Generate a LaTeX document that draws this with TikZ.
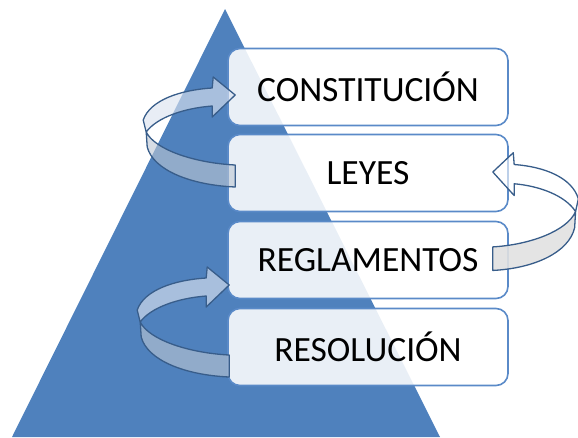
\documentclass[tikz,border=0pt]{standalone}
\usepackage{fontspec}
\setmainfont{Carlito}
\definecolor{triblue}{RGB}{79,129,189}
\definecolor{boxline}{RGB}{90,138,200}
\definecolor{arrline}{RGB}{56,93,138}
\definecolor{backfillL}{RGB}{219,227,240}
\definecolor{frontfillL}{RGB}{189,199,212}
\definecolor{backfillR}{RGB}{255,255,255}
\definecolor{frontfillR}{RGB}{225,225,225}
\tikzset{
  levelbox/.style={draw=boxline, line width=1.6pt, rounded corners=12pt,
    fill=white, fill opacity=0.88, text opacity=1,
    minimum width=280pt, minimum height=77pt, inner sep=0pt,
    font=\fontsize{35.5}{42}\selectfont, text=black},
  arrpart/.style={draw=arrline, line width=1.3pt, line join=round},
  pics/twist/.style n args={4}{code={
    \path[arrpart, fill=#1, fill opacity=#2]
      (-92,25) .. controls (-85,5) and (-55,-5) .. (-23,-7) -- (-22,-18) -- (0,0)
      -- (-23,22) -- (-23,11) .. controls (-50,13) and (-78,22) .. (-89,37) -- cycle;
    \path[arrpart, fill=#3, fill opacity=#4]
      (-89,37) .. controls (-80,55) and (-40,68) .. (0,70) -- (0,92)
      .. controls (-45,90) and (-82,75) .. (-88,52) -- cycle;
  }}
}
\begin{document}
\begin{tikzpicture}[x=1pt,y=-1pt]
  \useasboundingbox (0,0) rectangle (578,437);
  \fill[triblue] (225,9) -- (440,437) -- (12,437) -- cycle;
  \node[levelbox] (c) at (368,87) {CONSTITUCIÓN};
  \node[levelbox] (l) at (368,173) {LEYES};
  \node[levelbox] (r) at (368,260) {REGLAMENTOS};
  \node[levelbox] (s) at (368,347) {RESOLUCIÓN};
  \pic at ([shift={(8,8)}]c.west) {twist={backfillL}{0.64}{frontfillL}{0.6}};
  \pic at ([shift={(2,25)}]r.west) {twist={backfillL}{0.64}{frontfillL}{0.6}};
  \pic[xscale=-0.93, yscale=1.07] at ([shift={(-16,-1)}]l.east) {twist={backfillR}{0.6}{frontfillR}{0.9}};
\end{tikzpicture}
\end{document}
